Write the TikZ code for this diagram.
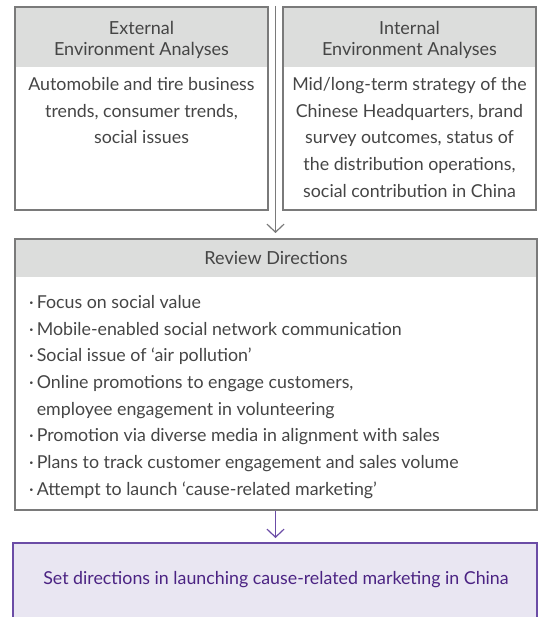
\documentclass[tikz,border=0pt]{standalone}
\usepackage{fontspec}
\setmainfont{Lato}
\usetikzlibrary{arrows.meta}
\definecolor{txt}{HTML}{454545}
\definecolor{hdr}{HTML}{DCDDDC}
\definecolor{brd}{HTML}{7A7A7A}
\definecolor{lav}{HTML}{E9E6F2}
\definecolor{pur}{HTML}{4B2383}
\definecolor{purl}{HTML}{6B4CA6}
\tikzset{
  box/.style={draw=brd, line width=1.2pt},
  hbox/.style={fill=hdr},
  ttext/.style={text=txt, font=\fontsize{17.8}{26.7}\selectfont, align=center, inner sep=0pt},
  htext/.style={text=txt, font=\fontsize{18}{21.5}\selectfont, align=center, inner sep=0pt},
  conn/.style={draw=brd, line width=1.6pt, -{Straight Barb[length=8pt,width=17pt,line width=1.2pt]}},
}
\begin{document}
\begin{tikzpicture}[x=1pt,y=-1pt]
\useasboundingbox (0,0) rectangle (541,617);
% External
\fill[hbox] (15,7) rectangle (268,67);
\draw[box] (15,7) rectangle (268,210);
\node[htext] (exth) at (141.5,40) {External\\Environment Analyses};
\node[ttext, anchor=north] (extb) at (141.5,77) {Automobile and tire business\\trends, consumer trends,\\social issues};
% Internal
\fill[hbox] (283,7) rectangle (536,67);
\draw[box] (283,7) rectangle (536,210);
\node[htext] (inth) at (409.5,40) {Internal\\Environment Analyses};
\node[ttext, anchor=north] (intb) at (409.5,77) {Mid/long-term strategy of the\\Chinese Headquarters, brand\\survey outcomes, status of\\the distribution operations,\\social contribution in China};
% connector 1
\coordinate (c1) at (275.5,6);
\coordinate (c1e) at (275.5,233);
\draw[conn] (c1) -- (c1e);
% Review
\fill[hbox] (15,239) rectangle (537,277);
\draw[box] (15,239) rectangle (537,510);
\node[htext] (revh) at (276,258) {Review Directions};
\node[ttext, align=left, anchor=north west] (revb) at (29,295) {%
·\,Focus on social value\\
·\,Mobile-enabled social network communication\\
·\,Social issue of ‘air pollution’\\
·\,Online promotions to engage customers,\\
\phantom{·\,}employee engagement in volunteering\\
·\,Promotion via diverse media in alignment with sales\\
·\,Plans to track customer engagement and sales volume\\
·\,Attempt to launch ‘cause-related marketing’};
% connector 2
\coordinate (c2) at (275.5,511);
\coordinate (c2e) at (275.5,538);
\draw[conn, draw=purl] (c2) -- (c2e);
% Bottom
\fill[lav] (13,543) rectangle (537,620);
\draw[draw=purl, line width=1.4pt] (13,620) -- (13,543) -- (537,543) -- (537,620);
\node[ttext, text=pur] (res) at (276,580) {Set directions in launching cause-related marketing in China};
\end{tikzpicture}
\end{document}
